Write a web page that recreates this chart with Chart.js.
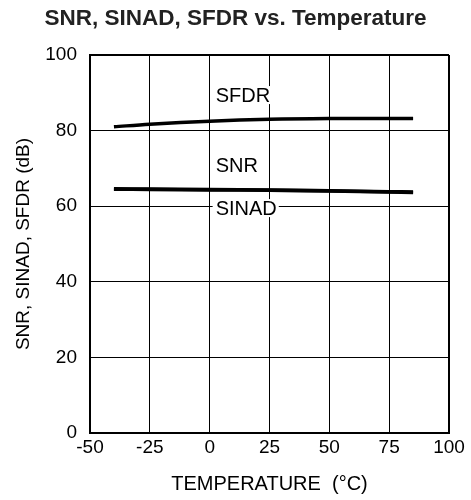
<!DOCTYPE html>
<html>
<head>
<meta charset="utf-8">
<script src="https://cdn.jsdelivr.net/npm/chart.js@4.4.1/dist/chart.umd.min.js"></script>
<style>
  html, body { margin: 0; padding: 0; background: #fff; }
  #wrap { width: 471px; height: 500px; }
</style>
</head>
<body>
<div id="wrap"><canvas id="c" width="471" height="500"></canvas></div>
<script>
// ---- data ----
const temperatures = [-40, -25, 0, 25, 50, 75, 85];
const sfdr  = [81.0, 81.7, 82.5, 83.0, 83.2, 83.2, 83.2];
const snr   = [64.6, 64.55, 64.4, 64.3, 64.1, 63.85, 63.75];
const sinad = [64.5, 64.45, 64.3, 64.2, 64.0, 63.75, 63.65];
const xTicks = [-50, -25, 0, 25, 50, 75, 100];
const yTicks = [0, 20, 40, 60, 80, 100];
// curve labels: [text, x (°C), y (dB), opaque background]
const curveLabels = [
  ['SFDR', 2.5, 89.4, true],
  ['SNR', 2.5, 70.9, false],
  ['SINAD', 2.5, 59.5, true]
];

const FONT = "'Liberation Sans', Arial, Helvetica, sans-serif";
const pts = (ys) => temperatures.map((t, i) => ({ x: t, y: ys[i] }));

const labelPlugin = {
  id: 'curveLabels',
  afterDatasetsDraw(chart) {
    const { ctx, scales: { x, y } } = chart;
    ctx.save();
    ctx.font = '20px ' + FONT;
    ctx.textBaseline = 'middle';
    ctx.textAlign = 'left';
    curveLabels.forEach(([txt, tx, ty, bg]) => {
      const px = x.getPixelForValue(tx);
      const py = y.getPixelForValue(ty);
      const w = ctx.measureText(txt).width;
      if (bg) {
        ctx.fillStyle = '#fff';
        ctx.fillRect(px - 3, py - 9, w + 5, 18);
      }
      ctx.fillStyle = '#000';
      ctx.fillText(txt, px, py + 1);
    });
    ctx.restore();
  }
};

new Chart(document.getElementById('c'), {
  type: 'line',
  data: {
    datasets: [
      { label: 'SFDR', data: pts(sfdr), borderColor: '#000', borderWidth: 3.5, pointRadius: 0, tension: 0.35, fill: false },
      { label: 'SNR', data: pts(snr), borderColor: '#000', borderWidth: 3.5, pointRadius: 0, tension: 0.3, fill: false },
      { label: 'SINAD', data: pts(sinad), borderColor: '#000', borderWidth: 3.5, pointRadius: 0, tension: 0.3, fill: false }
    ]
  },
  options: {
    responsive: false,
    animation: false,
    layout: { padding: 0 },
    plugins: {
      legend: { display: false },
      tooltip: { enabled: false },
      title: {
        display: true,
        text: 'SNR, SINAD, SFDR vs. Temperature',
        color: '#222',
        font: { family: FONT, size: 22.5, weight: 'bold' },
        padding: { top: 5, bottom: 23 }
      }
    },
    scales: {
      x: {
        type: 'linear',
        min: -50, max: 100,
        afterBuildTicks: (s) => { s.ticks = xTicks.map(v => ({ value: v })); },
        afterFit: (s) => { s.height = 67; },
        ticks: { color: '#000', font: { family: FONT, size: 19 }, padding: 3, maxRotation: 0 },
        grid: {
          color: '#000',
          lineWidth: (c) => (c.tick && c.tick.value === 100 ? 2 : 1),
          drawTicks: false
        },
        border: { color: '#000', width: 2 },
        title: {
          display: true,
          text: 'TEMPERATURE  (°C)',
          color: '#000',
          font: { family: FONT, size: 20 },
          padding: { top: 0, bottom: 4 }
        }
      },
      y: {
        min: 0, max: 100,
        afterBuildTicks: (s) => { s.ticks = yTicks.map(v => ({ value: v })); },
        afterFit: (s) => { s.width = 90; },
        ticks: { color: '#000', font: { family: FONT, size: 19 }, padding: 13 },
        grid: {
          color: '#000',
          lineWidth: (c) => (c.tick && c.tick.value === 100 ? 2 : 1),
          drawTicks: false
        },
        border: { color: '#000', width: 2 },
        title: {
          display: true,
          text: 'SNR, SINAD, SFDR (dB)',
          color: '#000',
          font: { family: FONT, size: 19 },
          padding: { top: 12, bottom: 0 }
        }
      },
      // empty right-hand spacer so the title stays centred on the whole canvas
      yRight: {
        position: 'right',
        min: 0, max: 100,
        afterFit: (s) => { s.width = 22; },
        ticks: { display: false },
        grid: { display: false, drawTicks: false },
        border: { display: false },
        title: { display: false }
      }
    }
  },
  plugins: [labelPlugin]
});
</script>
</body>
</html>
